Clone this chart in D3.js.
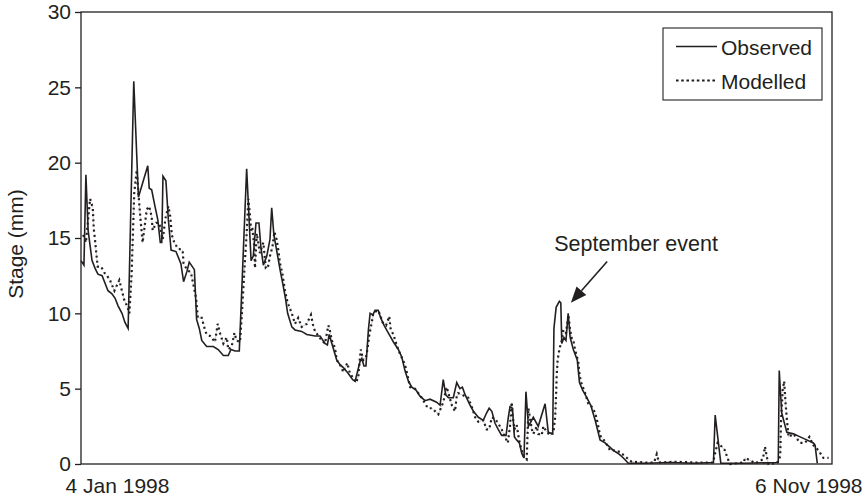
<!DOCTYPE html>
<html>
<head>
<meta charset="utf-8">
<script src="https://cdn.jsdelivr.net/npm/d3@7/dist/d3.min.js"></script>
<style>
  html, body { margin: 0; padding: 0; background: #fff; }
  svg { display: block; font-family: "Liberation Sans", Arial, Helvetica, sans-serif; }
</style>
</head>
<body>
<script>
// Daily river stage, 4 Jan 1998 to 6 Nov 1998 (days since start, stage in mm)
const obsDay = [0, 1.2, 2.0, 2.9, 3.7, 4.5, 5.7, 6.9, 8.6, 9.8, 11.0, 12.6, 13.9, 15.1, 16.7, 17.9, 19.2,
  21.5, 23.4, 27.2, 27.8, 28.8, 29.9, 31.3, 32.3, 32.9, 33.4, 34.6, 35.6, 36.7, 38.7, 40.7, 41.8, 43.2,
  44.1, 46.2, 47.1, 48.2, 49.2, 51.2, 53.9, 55.9, 58.0, 60.0, 61.1, 62.8, 64.5, 67.5, 69.3, 70.2, 71.3,
  72.5, 73.3, 74.3, 75.7, 77.0, 77.7, 78.6, 79.7, 81.1, 82.4, 83.4, 84.2, 85.9, 87.2, 89.9, 92.0, 95.4,
  97.4, 99.4, 100.4, 101.1, 102.2, 104.2, 105.5, 106.9, 108.9, 110.7, 111.7, 112.6, 113.7, 114.4, 115.3,
  116.1, 117.1, 117.8, 118.9, 119.8, 121.1, 122.1, 123.5, 125.2, 127.3, 129.3, 130.7, 132.0, 133.4, 134.8,
  136.5, 138.1, 140.2, 142.2, 144.9, 146.3, 147.0, 147.6, 148.6, 149.7, 151.7, 153.1, 154.4, 155.4, 156.5,
  158.5, 159.9, 161.9, 163.9, 165.3, 166.3, 167.4, 168.7, 170.0, 171.4, 173.2, 174.1, 174.8, 175.8, 176.6,
  177.5, 178.6, 179.6, 180.5, 181.3, 182.3, 184.3, 186.3, 189.1, 190.4, 192.2, 192.7, 193.6, 194.9, 195.5,
  195.9, 196.8, 197.6, 198.5, 199.3, 200.6, 202.2, 203.1, 204.4, 206.1, 207.7, 209.5, 211.5, 213.5, 215.6,
  216.9, 218.9, 221.0, 223.0, 230, 240, 250, 257.7, 258.4, 260.7, 270, 284.1, 284.5, 285.5, 287.6, 290.3,
  293.0, 295.7, 298.4, 299.1, 300.0];
const obsStage = [13.5, 13.2, 19.2, 15.5, 14.5, 13.5, 13.0, 12.6, 12.5, 12.0, 11.5, 11.3, 11.0, 10.5, 10.0, 9.4, 9.0,
  25.4, 17.7, 19.8, 18.3, 18.2, 17.3, 16.2, 14.7, 14.7, 19.1, 18.8, 16.2, 14.2, 14.1, 13.3, 12.1, 12.8,
  13.4, 12.9, 9.6, 9.0, 8.2, 7.8, 7.8, 7.6, 7.2, 7.2, 7.6, 7.5, 7.5, 19.6, 13.5, 13.8, 16.0,
  16.0, 14.4, 13.2, 13.8, 14.9, 17.0, 15.2, 14.2, 12.9, 11.8, 10.9, 10.0, 9.1, 8.9, 8.8, 8.6, 8.5,
  8.5, 8.0, 7.9, 8.6, 8.0, 6.9, 6.6, 6.4, 6.0, 5.6, 5.5, 6.1, 6.8, 7.0, 6.5,
  6.5, 8.9, 10.0, 9.9, 10.2, 10.2, 9.7, 9.2, 8.7, 8.1, 7.6, 7.1, 6.2, 5.5, 5.1,
  4.9, 4.5, 4.2, 4.3, 4.1, 3.9, 4.8, 5.6, 4.6, 4.4, 4.4, 5.4, 5.0, 5.1, 4.6,
  3.9, 3.5, 3.1, 2.9, 3.4, 3.7, 3.5, 2.7, 2.3, 1.9, 1.9, 3.1, 3.8, 3.7, 1.8,
  1.6, 1.4, 0.7, 0.4, 4.8, 2.5, 3.1, 2.5, 4.0, 2.1, 2.0, 9.0, 10.4, 10.8, 10.7,
  8.0, 8.4, 8.2, 10.0, 8.4, 7.6, 6.9, 5.4, 4.9, 4.4, 3.9, 2.9, 1.6, 1.4, 1.1,
  0.9, 0.7, 0.4, 0.05, 0.05, 0.1, 0.05, 0.1, 3.25, 0.05, 0.05, 0.1, 6.2, 3.4, 2.1, 2.0,
  1.8, 1.6, 1.4, 1.25, 0.05];

const modDay = [0.9, 2.0, 3.7, 4.8, 5.2, 5.7, 6.1, 6.8, 8.2, 9.5, 10.6, 11.8, 13.6, 15.6, 17.6, 19.0, 19.7,
  20.6, 21.7, 22.7, 24.0, 25.1, 26.8, 27.8, 28.8, 29.2, 30.6, 31.9, 33.3, 34.4, 35.6, 36.4, 37.0, 38.0,
  39.5, 41.4, 41.8, 43.2, 44.8, 46.9, 47.6, 49.2, 50.5, 51.2, 52.6, 54.6, 55.7, 56.6, 58.0, 59.4, 60.0,
  61.4, 62.5, 63.4, 64.8, 65.5, 66.1, 66.8, 67.5, 68.2, 68.9, 69.3, 69.8, 70.6, 70.9, 71.6, 72.9, 74.3,
  75.3, 76.1, 77.0, 78.0, 78.8, 79.7, 80.4, 81.1, 82.0, 83.1, 84.2, 85.9, 87.2, 88.5, 89.9, 92.0, 93.7,
  94.7, 95.4, 98.1, 99.4, 100.8, 101.5, 102.2, 103.5, 104.2, 105.5, 106.9, 108.5, 109.6, 111.0, 112.1,
  113.0, 113.4, 114.0, 115.0, 116.1, 116.7, 117.5, 118.5, 119.1, 119.8, 121.1, 122.1, 122.9, 124.3, 125.6,
  126.2, 127.3, 128.6, 130.0, 132.0, 133.0, 134.1, 136.1, 138.8, 140.2, 141.4, 143.0, 145.6, 147.6, 149.0,
  151.1, 152.4, 153.1, 153.7, 155.1, 156.5, 157.8, 159.2, 160.6, 161.9, 163.9, 165.3, 166.3, 167.4, 168.7,
  170.0, 171.4, 173.9, 174.8, 175.5, 175.8, 176.6, 177.5, 178.2, 178.9, 179.8, 180.6, 181.6, 182.3, 183.0,
  183.7, 184.3, 185.7, 186.3, 187.7, 188.4, 189.5, 191.1, 192.5, 193.2, 193.6, 193.8, 194.2, 194.9, 195.9,
  196.5, 197.6, 198.6, 199.3, 200.0, 200.6, 201.3, 202.6, 203.1, 203.6, 205.4, 206.7, 208.1, 209.5, 210.4,
  211.5, 213.5, 215.6, 217.6, 219.6, 221.7, 224.4, 230, 233.5, 234.6, 235.5, 242, 250, 257.5, 259.4,
  261.1, 262.4, 263.4, 264.5, 270, 270.6, 272.6, 274.7, 276.0, 277.8, 278.7, 279.4, 280.1, 283.5, 284.9,
  285.2, 285.9, 286.5, 287.0, 287.6, 288.3, 290.3, 293.0, 295.0, 296.8, 298.4, 300.5, 302.5, 304.6];
const modStage = [15.2, 14.7, 17.6, 17.0, 15.6, 14.9, 14.2, 13.1, 13.1, 12.7, 12.5, 12.2, 11.5, 12.2, 10.9, 10.4, 10.0,
  12.5, 18.0, 19.5, 16.7, 14.7, 16.9, 17.1, 16.4, 15.5, 16.0, 16.0, 14.9, 16.3, 17.1, 16.4, 15.2, 14.7,
  14.3, 14.2, 13.3, 12.9, 12.7, 11.0, 9.7, 9.7, 8.9, 8.6, 8.5, 8.1, 9.3, 8.7, 8.0, 8.4, 7.6,
  7.8, 8.7, 8.2, 8.1, 9.8, 11.5, 13.5, 15.3, 17.6, 16.4, 15.5, 15.7, 14.4, 13.0, 15.3, 14.0, 14.7,
  13.0, 13.0, 13.8, 14.4, 15.4, 14.9, 14.2, 13.3, 12.7, 11.5, 10.7, 10.0, 9.3, 9.7, 9.1, 9.3, 9.9,
  9.1, 8.8, 8.2, 8.0, 9.2, 8.8, 8.2, 7.7, 6.9, 6.6, 6.1, 6.7, 6.0, 5.7, 5.4,
  5.8, 6.6, 7.6, 6.9, 7.1, 7.6, 8.6, 9.4, 10.0, 10.1, 10.2, 9.8, 9.4, 9.2, 9.8,
  8.9, 8.6, 7.9, 7.3, 6.6, 5.9, 5.1, 5.0, 4.4, 4.0, 3.7, 3.7, 3.3, 4.1, 5.1,
  3.9, 3.5, 4.5, 4.7, 4.6, 4.5, 4.4, 3.8, 3.1, 2.8, 2.9, 2.3, 2.3, 3.1, 3.0,
  2.7, 2.3, 1.4, 2.5, 4.1, 3.3, 2.3, 2.6, 1.9, 1.3, 0.8, 0.4, 0.3, 3.7, 3.0,
  2.3, 2.0, 2.5, 2.0, 1.9, 2.5, 2.2, 1.9, 2.1, 3.1, 4.7, 5.8, 6.9, 7.6, 8.2,
  8.9, 8.7, 9.9, 8.9, 8.3, 8.2, 7.6, 6.8, 6.0, 5.5, 4.7, 4.0, 3.8, 3.4, 2.8,
  1.9, 1.5, 0.9, 0.9, 0.8, 0.5, 0.15, 0.1, 0.1, 0.65, 0.1, 0.15, 0.1, 0.1, 1.4,
  1.15, 0.9, 0.4, 0.0, 0.1, 0.4, 0.25, 0.05, 0.15, 0.3, 1.15, 0.5, 0.0, 0.05, 0.5,
  2.7, 4.9, 5.5, 4.2, 3.0, 1.8, 2.0, 1.4, 1.4, 1.8, 1.25, 0.9, 0.4, 0.4];

const yTicks = [0, 5, 10, 15, 20, 25, 30];
const xLabels = ["4 Jan 1998", "6 Nov 1998"];
const seriesNames = ["Observed", "Modelled"];
const yTitle = "Stage (mm)";
const eventNote = { day: 199.6, stage: 10.7, label: "September event" };

const startDate = new Date(Date.UTC(1998, 0, 4));
const endDate = new Date(Date.UTC(1998, 10, 6));
const toDate = d => new Date(startDate.getTime() + d * 864e5);

const W = 867, H = 499;
const plot = { left: 81, right: 832, top: 12, bottom: 464 };
const ink = "#231f20";
const fontSize = "21px";

const svg = d3.select("body").append("svg").attr("width", W).attr("height", H);

const x = d3.scaleUtc().domain([startDate, endDate]).range([plot.left, plot.right]);
const y = d3.scaleLinear().domain([0, 30]).range([plot.bottom, plot.top]);

// frame round the plotting area
svg.append("rect")
  .attr("x", plot.left).attr("y", plot.top)
  .attr("width", plot.right - plot.left).attr("height", plot.bottom - plot.top)
  .attr("fill", "none").attr("stroke", ink).attr("stroke-width", 1.3);

// y axis
const yAxis = svg.append("g")
  .attr("transform", `translate(${plot.left},0)`)
  .call(d3.axisLeft(y).tickValues(yTicks).tickSize(6).tickPadding(4));
yAxis.select(".domain").remove();
yAxis.selectAll(".tick line").attr("stroke", ink).attr("stroke-width", 1.3);
yAxis.selectAll(".tick text").attr("fill", ink).style("font-size", fontSize);

// x axis: only the first and last dates are labelled
const xAxis = svg.append("g")
  .attr("transform", `translate(0,${plot.bottom})`)
  .call(d3.axisBottom(x).tickValues([startDate, endDate]).tickSize(0)
    .tickFormat((d, i) => xLabels[i]));
xAxis.select(".domain").remove();
xAxis.selectAll(".tick text")
  .attr("fill", ink).style("font-size", fontSize)
  .attr("y", 29).attr("dy", 0)
  .attr("text-anchor", (d, i) => i === 0 ? "start" : "end")
  .attr("dx", (d, i) => i === 0 ? -16 : 30);

// y title
svg.append("text")
  .attr("transform", `translate(23,${(plot.top + plot.bottom) / 2 + 6}) rotate(-90)`)
  .attr("text-anchor", "middle").attr("fill", ink).style("font-size", fontSize)
  .text(yTitle);

const line = d3.line().x(d => x(toDate(d[0]))).y(d => y(d[1]));
const obs = obsDay.map((d, i) => [d, obsStage[i]]);
const mod = modDay.map((d, i) => [d, modStage[i]]);

// modelled: faint guide under the dotted stroke
svg.append("path").datum(mod).attr("d", line)
  .attr("fill", "none").attr("stroke", "#b5b5b5").attr("stroke-width", 0.7)
  .attr("stroke-dasharray", "3,3").attr("stroke-dashoffset", 2);
svg.append("path").datum(mod).attr("d", line)
  .attr("fill", "none").attr("stroke", ink).attr("stroke-width", 2.2)
  .attr("stroke-dasharray", "2,3.2");

// observed
svg.append("path").datum(obs).attr("d", line)
  .attr("fill", "none").attr("stroke", ink).attr("stroke-width", 1.6)
  .attr("stroke-linejoin", "miter");

// legend
const lg = svg.append("g").attr("transform", "translate(663,28)");
lg.append("rect").attr("width", 159).attr("height", 72)
  .attr("fill", "#fff").attr("stroke", ink).attr("stroke-width", 1.1);
seriesNames.forEach((name, i) => {
  const cy = 18.5 + i * 34;
  lg.append("line").attr("x1", 13).attr("x2", 54).attr("y1", cy).attr("y2", cy)
    .attr("stroke", ink).attr("stroke-width", i === 0 ? 1.6 : 1.8)
    .attr("stroke-dasharray", i === 0 ? null : "2.6,2.6");
  lg.append("text").attr("x", 58).attr("y", cy + 8.5)
    .attr("fill", ink).style("font-size", fontSize).text(name);
});

// annotation arrow pointing at the September peak
const tipX = x(toDate(eventNote.day)), tipY = y(eventNote.stage);
const tailX = tipX + 36.3, tailY = tipY - 41.3;
const ang = Math.atan2(tipY - tailY, tipX - tailX);
const headLen = 16, headHalf = 6.5;
const baseX = tipX - headLen * Math.cos(ang), baseY = tipY - headLen * Math.sin(ang);
svg.append("line").attr("x1", tailX).attr("y1", tailY).attr("x2", baseX).attr("y2", baseY)
  .attr("stroke", ink).attr("stroke-width", 1.6);
svg.append("path")
  .attr("d", `M${tipX},${tipY}L${baseX + headHalf * Math.sin(ang)},${baseY - headHalf * Math.cos(ang)}` +
    `L${baseX - headHalf * Math.sin(ang)},${baseY + headHalf * Math.cos(ang)}Z`)
  .attr("fill", ink);
svg.append("text").attr("x", tipX - 16.7).attr("y", tipY - 52)
  .attr("fill", ink).style("font-size", "21.5px").text(eventNote.label);
</script>
</body>
</html>
